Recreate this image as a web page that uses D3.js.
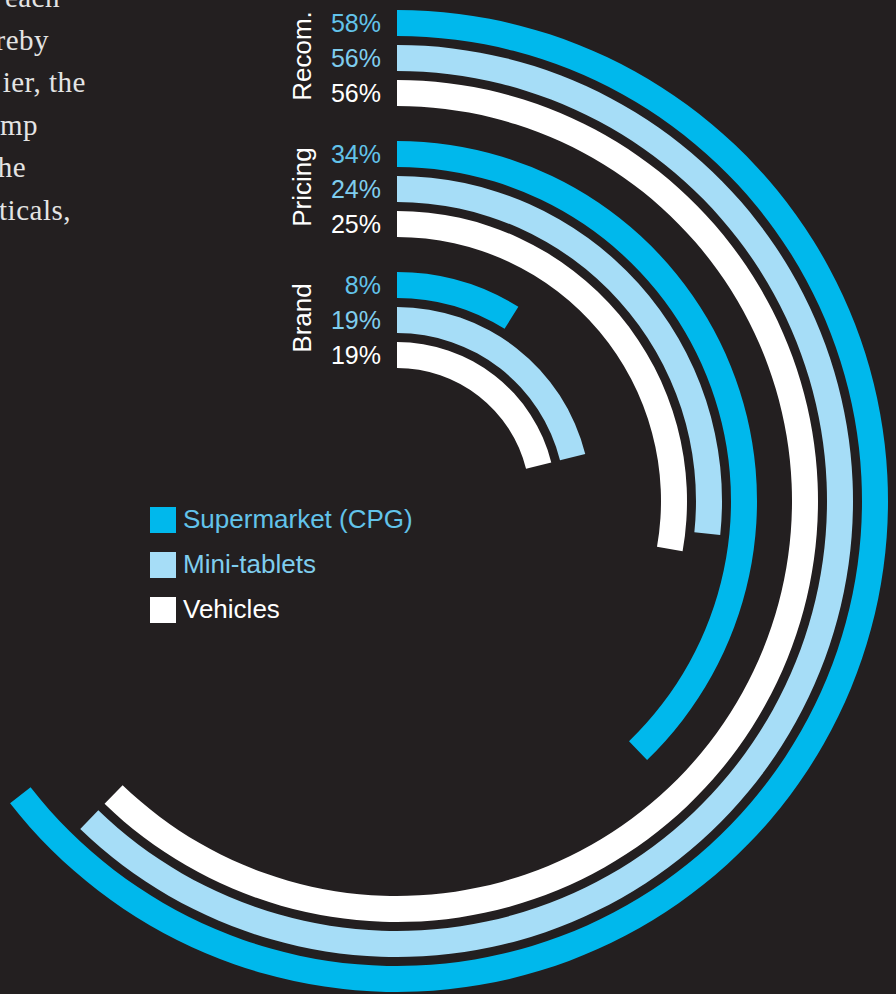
<!DOCTYPE html>
<html>
<head>
<meta charset="utf-8">
<script src="https://cdn.jsdelivr.net/npm/d3@7/dist/d3.min.js"></script>
<style>
  html, body { margin: 0; padding: 0; background: #231f20; }
  svg { display: block; }
</style>
</head>
<body>
<svg id="chart" width="896" height="994"></svg>
<script>
// Categories (ring groups, outermost first) and series (rings within a group)
const categories = ["Recom.", "Pricing", "Brand"];
const seriesNames = ["Supermarket (CPG)", "Mini-tablets", "Vehicles"];

// Share of each series per category, in percent
const supermarket = [58, 34, 8];
const miniTablets = [56, 24, 19];
const vehicles = [56, 25, 19];

// Fragment of the body copy beside the chart
const copyLines = ["each", "reby", "ier, the", "mp", "he", "ticals,"];

const seriesValues = [supermarket, miniTablets, vehicles];
const fills = ["#00b8ec", "#a6ddf7", "#ffffff"];
const labelFills = ["#62c3ea", "#7fcdee", "#ffffff"];

const W = 896, H = 994;
const cx = 397, cy = 501;

const svg = d3.select("#chart");
svg.append("rect").attr("width", W).attr("height", H).attr("fill", "#231f20");

// Body copy, cut off by the left edge of the page
const copy = svg.append("g")
  .attr("font-family", "'Liberation Serif', 'Times New Roman', serif")
  .attr("font-size", 29)
  .attr("letter-spacing", 0.5)
  .attr("fill", "#e4e4e4")
  .attr("text-anchor", "end");
const copyRight = [60, 49, 86, 38, 26, 71];
copyLines.forEach((t, i) => {
  copy.append("text")
    .attr("x", copyRight[i])
    .attr("y", 7 + i * 42.6)
    .text(t);
});

// Radial layout: groups of rings, then rings within a group
const group = d3.scaleBand()
  .domain(categories)
  .range([491, 133])
  .paddingInner(35 / 131)
  .paddingOuter(0);

const ring = d3.scaleBand()
  .domain(seriesNames)
  .range([group.bandwidth(), 0])
  .paddingInner(9 / 35)
  .paddingOuter(0);

// 90% completes the full circle
const angle = d3.scaleLinear().domain([0, 90]).range([0, 2 * Math.PI]);

const arc = d3.arc();

const rows = [];
categories.forEach((c, ci) => {
  seriesNames.forEach((s, si) => {
    const inner = group(c) + ring(s);
    rows.push({
      category: c, series: s, si,
      value: seriesValues[si][ci],
      inner, outer: inner + ring.bandwidth()
    });
  });
});

const plot = svg.append("g").attr("transform", `translate(${cx},${cy})`);

plot.selectAll("path.bar")
  .data(rows)
  .join("path")
  .attr("class", "bar")
  .attr("fill", d => fills[d.si])
  .attr("d", d => arc({
    innerRadius: d.inner,
    outerRadius: d.outer,
    startAngle: 0,
    endAngle: angle(d.value)
  }));

// Value labels at the start of each ring
plot.selectAll("text.value")
  .data(rows)
  .join("text")
  .attr("class", "value")
  .attr("x", -16)
  .attr("y", d => -(d.inner + d.outer) / 2 + 9)
  .attr("text-anchor", "end")
  .attr("font-family", "'Liberation Sans', Arial, Helvetica, sans-serif")
  .attr("font-size", 25)
  .attr("fill", d => labelFills[d.si])
  .text(d => d.value + "%");

// Category labels, rotated, centred on their group
plot.selectAll("text.category")
  .data(categories)
  .join("text")
  .attr("class", "category")
  .attr("transform", c => `translate(-86,${-(group(c) + group.bandwidth() / 2) - 2}) rotate(-90)`)
  .attr("text-anchor", "middle")
  .attr("font-family", "'Liberation Sans', Arial, Helvetica, sans-serif")
  .attr("font-size", 26)
  .attr("fill", "#ffffff")
  .text(c => c);

// Legend
const legend = svg.append("g").attr("transform", "translate(150,507)");
const item = legend.selectAll("g")
  .data(seriesNames)
  .join("g")
  .attr("transform", (d, i) => `translate(0,${i * 45})`);
item.append("rect")
  .attr("width", 26).attr("height", 26)
  .attr("fill", (d, i) => fills[i]);
item.append("text")
  .attr("x", 33).attr("y", 21)
  .attr("font-family", "'Liberation Sans', Arial, Helvetica, sans-serif")
  .attr("font-size", 26)
  .attr("fill", (d, i) => labelFills[i])
  .text(d => d);
</script>
</body>
</html>
